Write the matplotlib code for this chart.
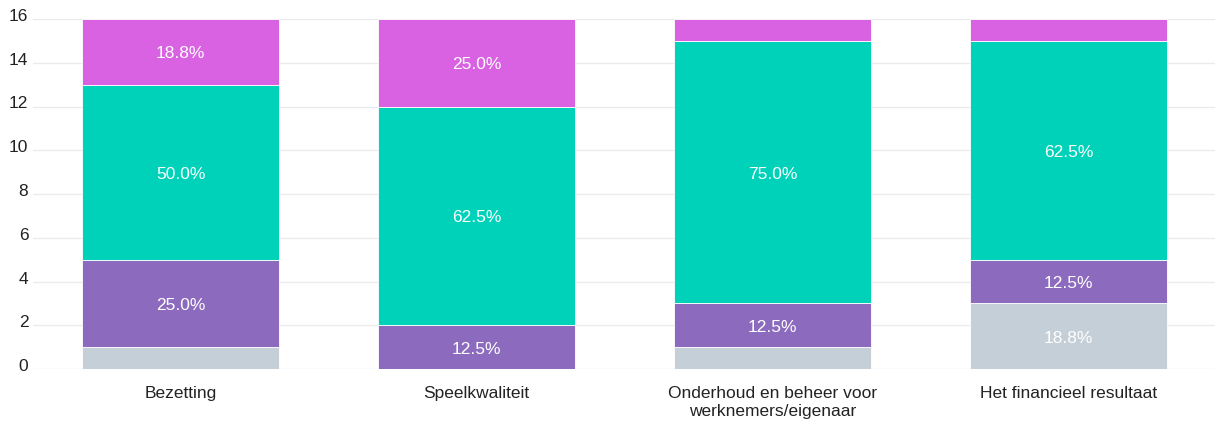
import matplotlib
matplotlib.use("Agg")
import matplotlib.pyplot as plt
import matplotlib.transforms as mtransforms
import numpy as np

categories = ["Bezetting", "Speelkwaliteit", "Onderhoud en beheer voor\nwerknemers/eigenaar", "Het financieel resultaat"]
grey = [1, 0, 1, 3]
purple = [4, 2, 2, 2]
teal = [8, 10, 12, 10]
magenta = [3, 4, 1, 1]

series = [grey, purple, teal, magenta]
colors = ["#c5cfd7", "#8c6bbf", "#00d2ba", "#d962e3"]

plt.rcParams['font.family'] = ['Liberation Sans', 'DejaVu Sans']

fig = plt.figure(figsize=(12.15, 4.25), dpi=100)
ax = fig.add_axes([32.5/1215, 56/425, (1216.5-32.5)/1215, 350/425])

down = mtransforms.ScaledTranslation(0, -2/100, fig.dpi_scale_trans)

x = np.arange(len(categories))
totals = np.sum(series, axis=0)
bottom = np.zeros(len(categories))
for vals, col in zip(series, colors):
    vals = np.array(vals, dtype=float)
    ax.bar(x, vals, bottom=bottom, width=0.666, color=col, edgecolor="white", linewidth=0.6, zorder=3)
    for xi, v, b, t in zip(x, vals, bottom, totals):
        if v >= 2:
            ax.text(xi, b + v / 2, f"{v / t * 100:.1f}%", ha="center", va="center",
                    color="white", fontsize=12.5, zorder=4,
                    transform=ax.transData + down)
    bottom += vals

ax.set_xlim(-0.5, 3.5)
ax.set_ylim(0, 16)
ax.set_yticks(range(0, 17, 2))
ax.set_xticks(x)
ax.set_xticklabels(categories, fontsize=12.5, color="#222222", linespacing=1.3)
ax.tick_params(axis="y", labelsize=12.5, colors="#222222", length=0, pad=3)
ax.tick_params(axis="x", length=0, pad=12)
offset = mtransforms.ScaledTranslation(0, 4/100, fig.dpi_scale_trans)
for lbl in ax.get_yticklabels():
    lbl.set_transform(lbl.get_transform() + offset)
ax.grid(axis="y", color="#ebebeb", linewidth=1, zorder=0)
for s in ax.spines.values():
    s.set_visible(False)

fig.savefig("out.png", dpi=100)
